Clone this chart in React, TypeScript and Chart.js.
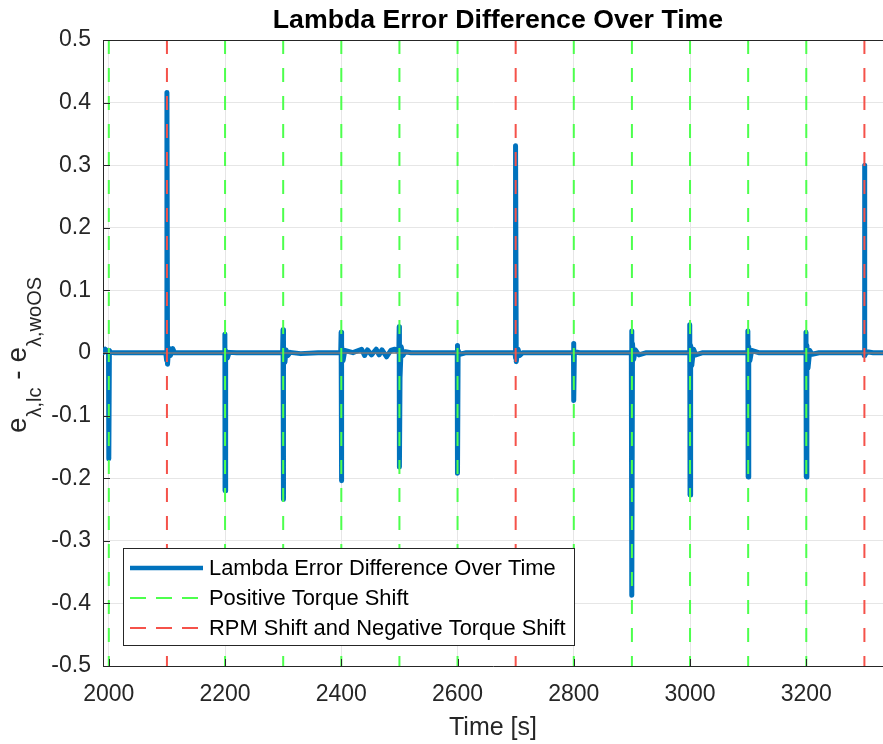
import React, { useEffect, useRef } from "react";
import { Chart, registerables } from "chart.js";

Chart.register(...registerables);

const chartTitle = "Lambda Error Difference Over Time";
const xAxisLabel = "Time [s]";
const seriesLabels = [
  "Lambda Error Difference Over Time",
  "Positive Torque Shift",
  "RPM Shift and Negative Torque Shift",
];
const xTicks = [2000, 2200, 2400, 2600, 2800, 3000, 3200];
const yTicks = [-0.5, -0.4, -0.3, -0.2, -0.1, 0, 0.1, 0.2, 0.3, 0.4, 0.5];
const xMin = 1990;
const xMax = 3332;
const positiveTorqueShifts = [2000, 2200, 2300, 2400, 2500, 2600, 2800, 2900, 3000, 3100, 3200];
const rpmShifts = [2100, 2700, 3300];

const timeS = [
  1990, 1994, 1997, 1999.5, 2000, 2001, 2003, 2010, 2050, 2098,
  2099.5, 2100, 2101, 2103, 2106, 2110, 2113, 2125, 2199,
  2199.7, 2200, 2201, 2204, 2207, 2220, 2299,
  2299.7, 2300, 2301, 2303, 2305, 2308, 2312, 2330, 2360, 2399,
  2399.7, 2400, 2401, 2403, 2406, 2420, 2435, 2440, 2445, 2452, 2460, 2465, 2470, 2478, 2485, 2492, 2499,
  2499.6, 2500, 2501, 2503, 2506, 2510, 2520, 2599.5,
  2599.8, 2600, 2601, 2604, 2615, 2699,
  2699.6, 2700, 2701, 2704, 2707, 2712, 2725, 2799.5,
  2799.8, 2800, 2801, 2810, 2899,
  2899.6, 2900, 2901, 2903, 2906, 2912, 2925, 2999,
  2999.5, 3000, 3001, 3003, 3006, 3010, 3022, 3099,
  3099.5, 3100, 3101, 3103, 3106, 3118, 3199,
  3199.5, 3200, 3201, 3203, 3206, 3210, 3222, 3299,
  3299.6, 3300, 3301, 3304, 3315, 3332,
];
const lambdaDiff = [
  0.0005, 0.006, 0.001, 0.004, -0.169, 0.004, 0.001, 0.0005, 0.0005, 0.0005,
  -0.012, 0.416, -0.018, 0.008, -0.004, 0.007, 0.0005, 0.0005, 0.0005,
  0.03, -0.22, 0.004, -0.008, 0.001, 0.0005, 0.0005,
  0.037, -0.234, 0.01, -0.015, 0.005, -0.004, 0.001, -0.001, 0.0005, 0.0005,
  0.033, -0.204, 0.012, -0.012, 0.004, 0.0005, 0.006, -0.004, 0.005, -0.003, 0.006, -0.003, 0.005, -0.006, 0.004, 0.006, 0.002,
  0.042, -0.182, -0.04, 0.01, -0.004, 0.002, 0.0005, 0.0005,
  0.012, -0.192, 0.004, -0.002, 0.0005, 0.0005,
  -0.008, 0.331, -0.014, 0.006, -0.004, 0.0005, 0.0005, 0.0005,
  0.015, -0.076, 0.002, 0.0005, 0.0005,
  0.035, -0.387, 0.015, -0.01, 0.005, -0.003, 0.0005, 0.0005,
  0.045, -0.227, 0.012, -0.02, 0.006, -0.003, 0.0005, 0.0005,
  0.035, -0.198, 0.01, -0.012, 0.004, 0.0005, 0.0005,
  0.033, -0.198, 0.012, -0.024, 0.004, -0.002, 0.0005, 0.0005,
  -0.004, 0.3, -0.004, 0.002, 0.0005, 0.0005,
];

const BLUE = "#0072BD";
const GREEN = "#4DFF4D";
const RED = "#F5524A";
const AXIS = "#262626";
const FONT = "'Liberation Sans', Arial, Helvetica, sans-serif";
const DASH = [14, 14];

const overlayPlugin = {
  id: "matlabOverlay",
  afterDraw(chart: any) {
    const { ctx, chartArea } = chart;
    const xs = chart.scales.x;
    const ys = chart.scales.y;
    ctx.save();
    // top border
    ctx.strokeStyle = AXIS;
    ctx.lineWidth = 1;
    ctx.beginPath();
    ctx.moveTo(chartArea.left, chartArea.top + 0.5);
    ctx.lineTo(chartArea.right, chartArea.top + 0.5);
    ctx.stroke();
    // inside ticks
    ctx.beginPath();
    yTicks.forEach((v) => {
      const py = Math.round(ys.getPixelForValue(v)) + 0.5;
      ctx.moveTo(chartArea.left, py);
      ctx.lineTo(chartArea.left + 7, py);
    });
    xTicks.forEach((v) => {
      const px = Math.round(xs.getPixelForValue(v)) + 0.5;
      ctx.moveTo(px, chartArea.bottom);
      ctx.lineTo(px, chartArea.bottom - 7);
    });
    ctx.stroke();

    // title
    ctx.fillStyle = "#000";
    ctx.font = `bold 26.7px ${FONT}`;
    ctx.textAlign = "center";
    ctx.textBaseline = "alphabetic";
    ctx.fillText(chartTitle, 498, 28);

    // y label with subscripts
    const parts = [
      { t: "e", sub: false },
      { t: "\u03bb,lc", sub: true },
      { t: " - e", sub: false },
      { t: "\u03bb,woOS", sub: true },
    ];
    const mainFont = `28px ${FONT}`;
    const subFont = `20px ${FONT}`;
    let total = 0;
    const widths = parts.map((p) => {
      ctx.font = p.sub ? subFont : mainFont;
      const w = ctx.measureText(p.t).width;
      total += w;
      return w;
    });
    ctx.translate(26, 355);
    ctx.rotate(-Math.PI / 2);
    ctx.fillStyle = AXIS;
    ctx.textAlign = "left";
    let cx = -total / 2;
    parts.forEach((p, i) => {
      ctx.font = p.sub ? subFont : mainFont;
      ctx.fillText(p.t, cx, p.sub ? 15 : 0);
      cx += widths[i];
    });
    ctx.restore();

    // legend
    ctx.save();
    const lx = 123, ly = 548, lw = 451, lh = 97;
    ctx.fillStyle = "#fff";
    ctx.fillRect(lx, ly, lw, lh);
    ctx.strokeStyle = AXIS;
    ctx.lineWidth = 1;
    ctx.strokeRect(lx + 0.5, ly + 0.5, lw, lh);
    const rows = [
      { color: BLUE, width: 4.5, dash: [] as number[] },
      { color: GREEN, width: 2, dash: [16, 10] },
      { color: RED, width: 2, dash: [16, 10] },
    ];
    rows.forEach((r, i) => {
      const ry = 568 + i * 30;
      ctx.strokeStyle = r.color;
      ctx.lineWidth = r.width;
      ctx.setLineDash(r.dash);
      ctx.beginPath();
      ctx.moveTo(130, ry);
      ctx.lineTo(203, ry);
      ctx.stroke();
      ctx.setLineDash([]);
      ctx.fillStyle = "#000";
      ctx.font = `21.9px ${FONT}`;
      ctx.textAlign = "left";
      ctx.textBaseline = "middle";
      ctx.fillText(seriesLabels[i], 209, ry + 1);
    });
    ctx.restore();
  },
};

export default function App() {
  const canvasRef = useRef<HTMLCanvasElement | null>(null);

  useEffect(() => {
    const canvas = canvasRef.current;
    if (!canvas) return;
    const verticalSets = [
      ...positiveTorqueShifts.map((t) => ({ t, color: GREEN })),
      ...rpmShifts.map((t) => ({ t, color: RED })),
    ].map((v) => ({
      type: "line" as const,
      label: "",
      data: [
        { x: v.t, y: 0.5 },
        { x: v.t, y: -0.5 },
      ],
      borderColor: v.color,
      borderWidth: 2,
      borderDash: DASH,
      pointRadius: 0,
      fill: false,
    }));
    const chart = new Chart(canvas, {
      type: "line",
      data: {
        datasets: [
          ...verticalSets,
          {
            label: "zero",
            data: [
              { x: xMin, y: 0 },
              { x: xMax, y: 0 },
            ],
            borderColor: "#7a7a7a",
            borderWidth: 1.5,
            pointRadius: 0,
          },
          {
            label: seriesLabels[0],
            data: timeS.map((t, i) => ({ x: t, y: lambdaDiff[i] })),
            borderColor: BLUE,
            borderWidth: 5,
            borderJoinStyle: "round",
            borderCapStyle: "round",
            pointRadius: 0,
            tension: 0,
          },
        ] as any,
      },
      options: {
        responsive: false,
        animation: false,
        devicePixelRatio: 1,
        layout: { padding: { top: 40, left: 0, right: 0, bottom: 0 } },
        plugins: {
          legend: { display: false },
          tooltip: { enabled: false },
          title: { display: false },
        },
        scales: {
          x: {
            type: "linear",
            min: xMin,
            max: xMax,
            afterBuildTicks: (scale: any) => {
              scale.ticks = xTicks.map((v) => ({ value: v }));
            },
            afterFit: (scale: any) => {
              scale.height = 78;
            },
            grid: { color: "#e6e6e6", lineWidth: 1, drawTicks: false },
            border: { display: true, color: AXIS, width: 1 },
            ticks: {
              padding: 15,
              color: AXIS,
              font: { family: FONT, size: 23 },
              maxRotation: 0,
              autoSkip: false,
              callback: (v: any) => String(v),
            },
            title: {
              display: true,
              text: xAxisLabel,
              color: AXIS,
              font: { family: FONT, size: 25 },
              padding: { top: 0, bottom: 1 },
            },
          },
          y: {
            type: "linear",
            min: -0.5,
            max: 0.5,
            afterBuildTicks: (scale: any) => {
              scale.ticks = yTicks.map((v) => ({ value: v }));
            },
            afterFit: (scale: any) => {
              scale.width = 103;
            },
            grid: { color: "#e6e6e6", lineWidth: 1, drawTicks: false },
            border: { display: true, color: AXIS, width: 1 },
            ticks: {
              padding: 12,
              color: AXIS,
              font: { family: FONT, size: 23 },
              autoSkip: false,
              callback: (v: any) => String(Number(Number(v).toFixed(1))),
            },
          },
        },
      },
      plugins: [overlayPlugin],
    } as any);
    return () => chart.destroy();
  }, []);

  return (
    <div style={{ position: "absolute", left: 0, top: 0, width: 883, height: 744, background: "#fff" }}>
      <canvas ref={canvasRef} width={883} height={744} style={{ display: "block" }} />
    </div>
  );
}
